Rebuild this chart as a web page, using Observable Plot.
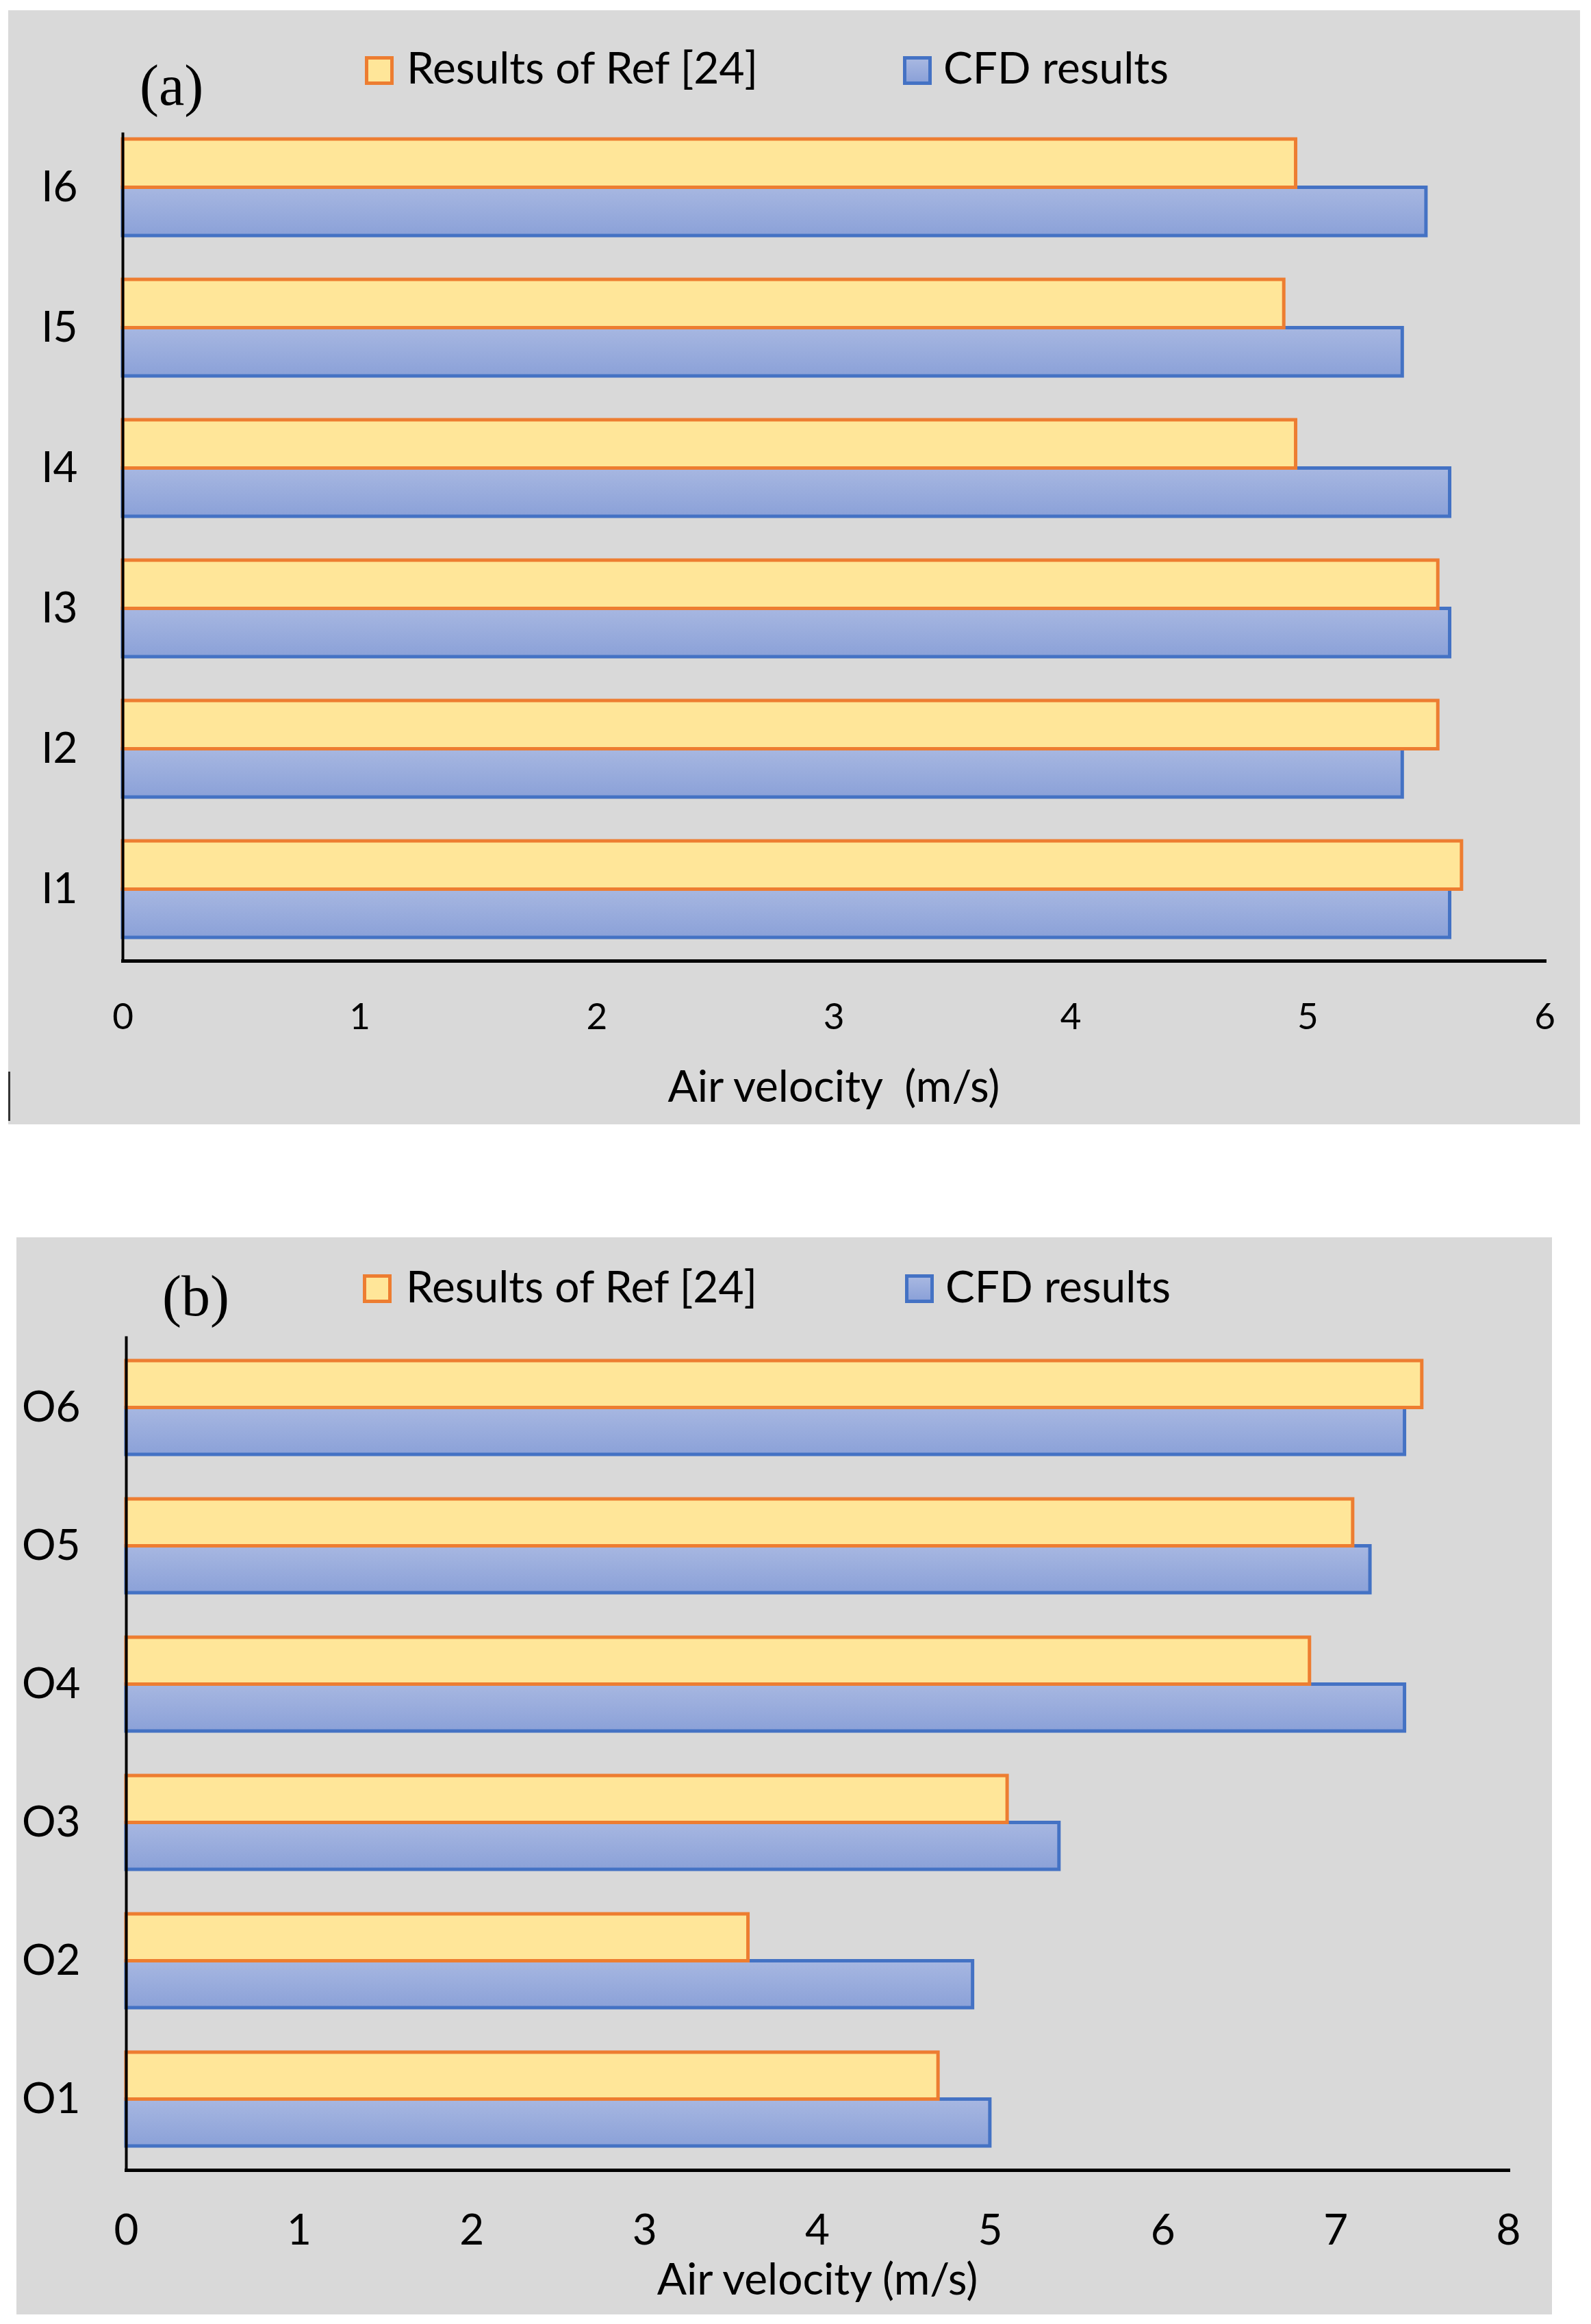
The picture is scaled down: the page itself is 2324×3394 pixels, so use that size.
<!DOCTYPE html>
<html><head><meta charset="utf-8">
<script src="https://cdn.jsdelivr.net/npm/d3@7"></script>
<script src="https://cdn.jsdelivr.net/npm/@observablehq/plot@0.6"></script>
<style>
html,body{margin:0;padding:0;background:#fff;}
body{position:relative;width:2324px;height:3394px;overflow:hidden;font-family:Lato,"Open Sans",sans-serif;}
.panel{position:absolute;background:#D9D9D9;}
.leg{position:absolute;font-size:64px;line-height:64px;color:#000;white-space:pre;}
.sw{position:absolute;width:42px;height:42px;box-sizing:border-box;border:5px solid;}
.tag{position:absolute;font-family:"Liberation Serif","DejaVu Serif",serif;font-size:84px;line-height:84px;color:#000;}
svg text{white-space:pre;}
</style></head><body>
<script>
// ---- data ----
const seriesNames = ["Results of Ref [24]", "CFD results"];
const catsA = ["I6", "I5", "I4", "I3", "I2", "I1"];
const refA  = [4.95, 4.9, 4.95, 5.55, 5.55, 5.65];
const cfdA  = [5.5, 5.4, 5.6, 5.6, 5.4, 5.6];
const ticksA = [0, 1, 2, 3, 4, 5, 6];
const catsB = ["O6", "O5", "O4", "O3", "O2", "O1"];
const refB  = [7.5, 7.1, 6.85, 5.1, 3.6, 4.7];
const cfdB  = [7.4, 7.2, 7.4, 5.4, 4.9, 5.0];
const ticksB = [0, 1, 2, 3, 4, 5, 6, 7, 8];
const labelA = "Air velocity  (m/s)";
const labelB = "Air velocity (m/s)";

const ORANGE_FILL = "#FFE699", ORANGE_STROKE = "#ED7D31";
const BLUE_TOP = "#A7B7E1", BLUE_BOT = "#8BA1D8", BLUE_STROKE = "#4472C4";

function el(cls, css, text) {
  const d = document.createElement("div");
  d.className = cls;
  Object.assign(d.style, css);
  if (text != null) d.textContent = text;
  document.body.appendChild(d);
  return d;
}

function legend(tag, tagPos, swTop, textTop, sw1, tx1, sw2, tx2) {
  el("tag", {left: tagPos[0] + "px", top: tagPos[1] + "px"}, tag);
  el("sw", {left: sw1 + "px", top: swTop + "px", background: ORANGE_FILL, borderColor: ORANGE_STROKE});
  el("leg", {left: tx1 + "px", top: textTop + "px"}, seriesNames[0]);
  el("sw", {left: sw2 + "px", top: swTop + "px", background: `linear-gradient(${BLUE_TOP}, ${BLUE_BOT})`, borderColor: BLUE_STROKE});
  el("leg", {left: tx2 + "px", top: textTop + "px"}, seriesNames[1]);
}

function chart(o) {
  const rows = o.cats.map((c, i) => ({cat: c, ref: o.ref[i], cfd: o.cfd[i]}));
  const base = {
    width: o.width, height: o.height,
    marginLeft: o.ml, marginRight: o.mr, marginTop: o.mt, marginBottom: o.mb,
    x: {domain: [0, o.xMax]},
    y: {domain: o.cats, paddingInner: o.pi, paddingOuter: o.pi / 2},
    style: {background: "transparent", color: "#000", fontFamily: "Lato, 'Open Sans', sans-serif", overflow: "visible"}
  };
  const probe = Plot.plot({...base, marks: [Plot.barX(rows, {x: "ref", y: "cat"})]});
  const half = probe.scale("y").bandwidth / 2;
  const svg = Plot.plot({...base, marks: [
    Plot.barX(rows, {x: "cfd", y: "cat", insetTop: half, fill: `url(#${o.grad})`, stroke: BLUE_STROKE, strokeWidth: 5}),
    Plot.barX(rows, {x: "ref", y: "cat", insetBottom: half, fill: ORANGE_FILL, stroke: ORANGE_STROKE, strokeWidth: 5}),
    Plot.frame({anchor: "left", stroke: "#000", strokeWidth: 4, insetTop: o.yLineInset}),
    Plot.frame({anchor: "bottom", stroke: "#000", strokeWidth: 5}),
    Plot.axisY({tickSize: 0, tickPadding: o.yPad, fontSize: 62, label: null}),
    Plot.axisX(o.ticks, {tickSize: 0, tickPadding: o.tickPad, fontSize: o.tickFont, tickFormat: d3.format("d"), label: null}),
    Plot.axisX([], {tickSize: 0, label: o.label, labelAnchor: "center", labelOffset: o.labelOffset, labelArrow: "none", fontSize: 64})
  ]});
  const defs = d3.select(svg).insert("defs", ":first-child");
  const g = defs.append("linearGradient").attr("id", o.grad).attr("x1", 0).attr("y1", 0).attr("x2", 0).attr("y2", 1);
  g.append("stop").attr("offset", 0).attr("stop-color", BLUE_TOP);
  g.append("stop").attr("offset", 1).attr("stop-color", BLUE_BOT);
  svg.style.position = "absolute";
  svg.style.left = o.left + "px";
  svg.style.top = o.top + "px";
  document.body.appendChild(svg);
}

// ---- panel (a) ----
el("panel", {left: "12px", top: "15px", width: "2296px", height: "1627px"});
el("panel", {left: "12px", top: "1565px", width: "3px", height: "72px", background: "#333"});
legend("(a)", [204, 83], 82, 66, 533, 594, 1319, 1378);
chart({cats: catsA, ref: refA, cfd: cfdA, ticks: ticksA, xMax: 6, label: labelA,
  left: 12, top: 150, width: 2296, height: 1492, ml: 167, mr: 52, mt: 20, mb: 239,
  pi: 0.31, yLineInset: 25, yPad: 66, tickPad: 62, tickFont: 53, labelOffset: 205, grad: "gradA"});

// ---- panel (b) ----
el("panel", {left: "24px", top: "1807px", width: "2243px", height: "1573px"});
legend("(b)", [237, 1851], 1861, 1846, 530, 593, 1322, 1381);
chart({cats: catsB, ref: refB, cfd: cfdB, ticks: ticksB, xMax: 8, label: labelB,
  left: 24, top: 1940, width: 2243, height: 1440, ml: 160, mr: 64, mt: 13, mb: 211,
  pi: 0.32, yLineInset: 0, yPad: 67, tickPad: 64, tickFont: 62, labelOffset: 181, grad: "gradB"});
</script>
</body></html>
